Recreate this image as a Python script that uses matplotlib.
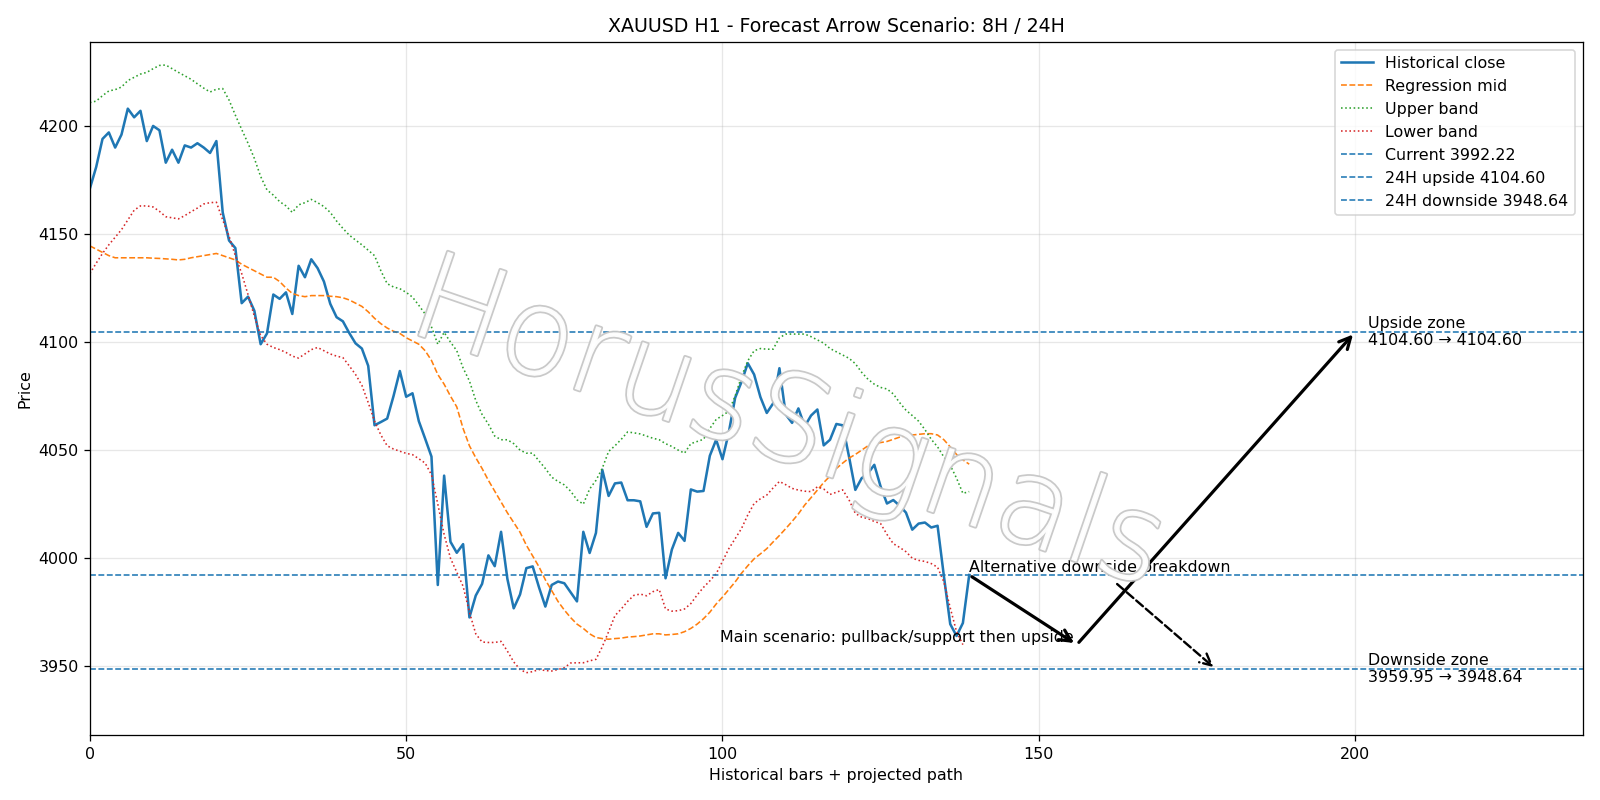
import matplotlib
matplotlib.use("Agg")
import matplotlib.pyplot as plt
import matplotlib.patheffects as pe
import numpy as np

close = [4171, 4181, 4194, 4197, 4190, 4196, 4208, 4204, 4207, 4193,
         4200, 4198, 4183, 4189, 4183, 4191, 4190, 4192, 4190, 4187.5,
         4193, 4160, 4147, 4143.5, 4118, 4121, 4114.5, 4099, 4104, 4122,
         4120, 4123, 4113, 4135.3, 4130, 4138.3, 4134.2, 4128, 4117.7, 4111.5,
         4109.6, 4104.2, 4099.4, 4097, 4089, 4061.5, 4063, 4064.6, 4075, 4086.6,
         4074.7, 4076.3, 4063.4, 4055.3, 4047, 3987.6, 4038.2, 4007.6, 4002.5, 4006.5,
         3972.6, 3982.7, 3988.1, 4001.3, 3996.3, 4012.2, 3990.4, 3976.8, 3983.2, 3995.4,
         3996.2, 3986.5, 3977.6, 3987.6, 3989.2, 3988.4, 3984.2, 3980, 4012.2, 4002.4,
         4011.7, 4040.9, 4028.8, 4034.6, 4035, 4026.8, 4026.8, 4026.3, 4014.5, 4020.7,
         4021, 3990.7, 4004, 4011.7, 4008, 4031.8, 4030.8, 4031.1, 4047.4, 4054.8,
         4045.8, 4058.2, 4074.2, 4081.5, 4090.2, 4085, 4074.5, 4067.2, 4071.6, 4087.9,
         4066.5, 4062.6, 4069.3, 4061, 4066, 4068.8, 4052.2, 4054.8, 4062.1, 4061.5,
         4047, 4031.6, 4037, 4039.3, 4043.2, 4033.1, 4025.3, 4026.9, 4024.3, 4021.1,
         4013.2, 4016, 4016.5, 4014.2, 4015, 3991.7, 3969.5, 3964, 3970, 3992.22]

reg_mid = [4144.5, 4143, 4141.5, 4140, 4139, 4139, 4139, 4139, 4139, 4139,
           4138.8, 4138.7, 4138.5, 4138.3, 4138, 4138.3, 4139, 4139.5, 4140, 4140.5,
           4141, 4140, 4139, 4138, 4136, 4134.5, 4133, 4131.5, 4130, 4130,
           4128, 4125, 4122.5, 4121.5, 4121, 4121.5, 4121.5, 4121.5, 4121.2, 4121,
           4120.5, 4119.5, 4118, 4116.5, 4114, 4111, 4108.5, 4106.5, 4105, 4104,
           4102, 4100.5, 4099, 4096, 4091.5, 4085, 4080.5, 4075, 4070, 4060,
           4052, 4046.5, 4041.5, 4036, 4031, 4026, 4021, 4016.5, 4012, 4006,
           4001, 3996, 3990, 3985, 3980, 3976, 3972.5, 3969.5, 3967.5, 3965,
           3963.3, 3962.8, 3962.5, 3962.8, 3963, 3963.5, 3963.7, 3964, 3964.5, 3965,
           3965, 3964.5, 3964.7, 3965, 3966, 3967.5, 3969.5, 3972, 3975, 3978.8,
           3982, 3985.5, 3989, 3993, 3996.5, 3999.7, 4002, 4004.4, 4007.5, 4010.5,
           4013.7, 4017, 4020.5, 4024.6, 4028, 4031.5, 4035, 4038, 4041.5, 4044,
           4046.3, 4048, 4050, 4052, 4053, 4053.5, 4054, 4055, 4056, 4056.7,
           4057, 4057.3, 4057.6, 4057.6, 4057, 4054.8, 4051.5, 4048, 4045.5, 4043.5]

upper_band = [4210.8, 4211.5, 4214, 4216.2, 4216.8, 4218, 4221, 4222.5, 4224, 4224.8,
              4226.5, 4228, 4228.2, 4226.5, 4224.8, 4223.2, 4221.6, 4219.5, 4217.5, 4215.7,
              4217, 4217.3, 4212, 4205, 4198.4, 4192, 4185, 4176.6, 4170.4, 4168,
              4165, 4163, 4160, 4163.5, 4164.5, 4166, 4164.5, 4162.7, 4160, 4156,
              4152.6, 4149.5, 4147.2, 4145, 4142.5, 4140, 4133, 4127, 4125.5, 4124.7,
              4123, 4120.8, 4117, 4113, 4107, 4099, 4104.5, 4100, 4096, 4088,
              4082, 4073, 4066.5, 4062, 4056.5, 4054.8, 4054.8, 4053, 4050, 4048.6,
              4048.6, 4045, 4041.5, 4037.5, 4035.5, 4033.9, 4031, 4027, 4025, 4032,
              4036, 4041.6, 4049.4, 4052, 4055, 4058.4, 4058, 4057.5, 4056.5, 4055.5,
              4054.8, 4053, 4051.7, 4050, 4048.6, 4053, 4054, 4055, 4060, 4064.2,
              4066, 4068, 4075, 4084, 4091.3, 4096, 4097, 4096.7, 4096.7, 4102,
              4103.7, 4103.7, 4103.7, 4103.7, 4102.5, 4101, 4099.5, 4097, 4095.5, 4094,
              4092.5, 4090, 4086, 4082.8, 4080.5, 4079, 4078.3, 4076, 4072, 4068.5,
              4066, 4063.4, 4059.5, 4055, 4051.5, 4046.8, 4043, 4037, 4030, 4030.8]

lower_band = [4131.7, 4136.5, 4141, 4145, 4148.5, 4152, 4156.5, 4161, 4163, 4163,
              4162.5, 4160.5, 4158, 4157.5, 4157, 4158.5, 4160.3, 4162, 4163.9, 4164.5,
              4164.7, 4156.5, 4149, 4140, 4131.7, 4122, 4112, 4103, 4099, 4097.5,
              4096.5, 4095.2, 4093.5, 4092.6, 4094.5, 4096.5, 4097.5, 4096, 4094.5, 4093.5,
              4092.8, 4089, 4085, 4080, 4072, 4063.4, 4057, 4052, 4050.5, 4049.5,
              4048.5, 4047.9, 4046, 4044, 4038.6, 4025, 4011, 4000, 3993.5, 3987,
              3975, 3965, 3961.2, 3961, 3961, 3961.5, 3957, 3952, 3948.5, 3947,
              3947.5, 3948.5, 3948, 3947.8, 3948.5, 3949.3, 3951.5, 3951.6, 3951.6, 3952.5,
              3953.2, 3959, 3966, 3973.4, 3976.5, 3980, 3982.8, 3983.4, 3982.6, 3984.5,
              3985.5, 3976.5, 3975.5, 3975.7, 3976.5, 3979, 3983, 3986.5, 3989.5, 3992.8,
              3998.5, 4004.4, 4009, 4013.7, 4020, 4025.3, 4027.5, 4029.2, 4032.5, 4035.5,
              4034, 4032.3, 4031.5, 4031, 4030.8, 4033, 4032, 4029.5, 4030.5, 4031.6,
              4027, 4020.7, 4019, 4018.3, 4017, 4016, 4011, 4006.7, 4005, 4003,
              4000, 3999, 3998.5, 3997.5, 3995.8, 3989, 3977, 3966, 3960]

current = 3992.22
up_24h = 4104.60
down_24h = 3948.64
pullback = 3959.95

# projected path points (bar index)
main_x = [139, 156, 200]
main_y = [current, pullback, up_24h]
alt_x = [162, 178]
alt_y = [3989.0, down_24h]

plt.rcParams['font.family'] = ['DejaVu Sans']
DPI = 1600 / 14
fig, ax = plt.subplots(figsize=(14, 7), dpi=DPI)

xh = np.arange(len(close))
ax.plot(xh, close, color='C0', lw=1.6, label='Historical close')
ax.plot(np.arange(len(reg_mid)), reg_mid, color='C1', ls='--', lw=1.0, label='Regression mid')
ax.plot(np.arange(len(upper_band)), upper_band, color='C2', ls=':', lw=1.0, label='Upper band')
ax.plot(np.arange(len(lower_band)), lower_band, color='C3', ls=':', lw=1.0, label='Lower band')
ax.axhline(current, color='C0', ls='--', lw=1.0, label=f'Current {current:.2f}')
ax.axhline(up_24h, color='C0', ls='--', lw=1.0, label=f'24H upside {up_24h:.2f}')
ax.axhline(down_24h, color='C0', ls='--', lw=1.0, label=f'24H downside {down_24h:.2f}')

# arrows
ax.annotate('', xy=(main_x[1], main_y[1]), xytext=(main_x[0], main_y[0]),
            arrowprops=dict(arrowstyle='->', lw=2.0, color='black', mutation_scale=18))
ax.annotate('', xy=(main_x[2], main_y[2]), xytext=(main_x[1], main_y[1]),
            arrowprops=dict(arrowstyle='->', lw=2.0, color='black', mutation_scale=18))
ax.annotate('', xy=(alt_x[1], alt_y[1]), xytext=(alt_x[0], alt_y[0]),
            arrowprops=dict(arrowstyle='->', lw=1.5, color='black', ls='--', mutation_scale=18))

ax.text(155.5, pullback, 'Main scenario: pullback/support then upside', ha='right', va='bottom', fontsize=10)
ax.text(139, current, 'Alternative downside breakdown', ha='left', va='bottom', fontsize=10)
ax.text(202, up_24h, f'Upside zone\n{up_24h:.2f} → {up_24h:.2f}', ha='left', va='center', fontsize=10)
ax.text(202, down_24h, f'Downside zone\n{pullback:.2f} → {down_24h:.2f}', ha='left', va='center', fontsize=10)

ax.set_xlim(0, 236)
ax.set_ylim(3918, 4239)
ax.grid(True, alpha=0.3)
ax.set_title('XAUUSD H1 - Forecast Arrow Scenario: 8H / 24H', fontsize=12)
ax.set_xlabel('Historical bars + projected path')
ax.set_ylabel('Price')
ax.legend(loc='upper right')

fig.text(0.4925, 0.466, 'HorusSignals', fontsize=76.5, color='white', alpha=0.95,
         fontweight='ultralight', rotation=-19, ha='center', va='center', zorder=10,
         path_effects=[pe.withStroke(linewidth=2.2, foreground='#c6c6c6')])

fig.tight_layout()
fig.savefig('out.png', dpi=DPI)
